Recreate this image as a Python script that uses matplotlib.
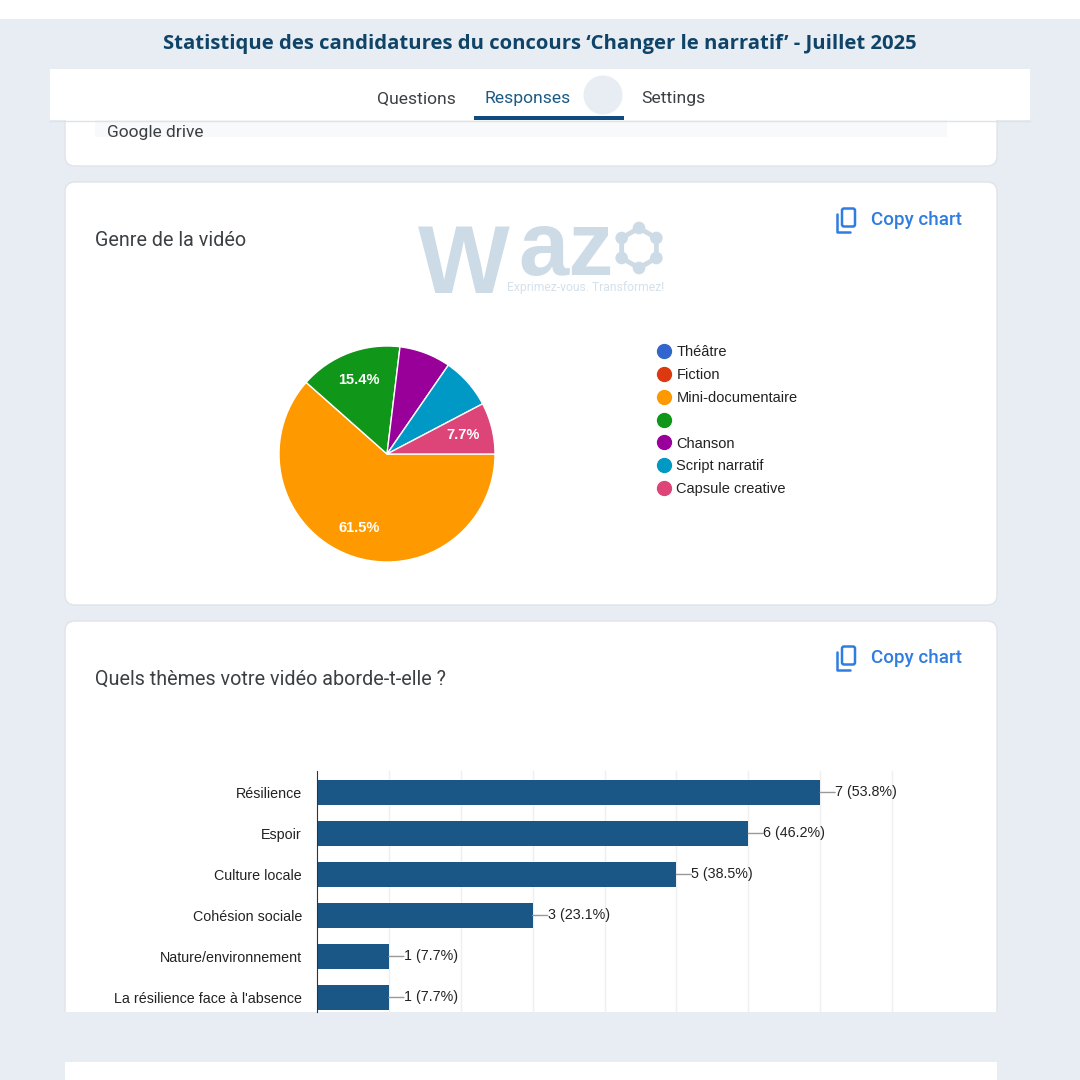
"""
Google Forms style summary of the 'Changer le narratif' applications
"""

import numpy as np
import matplotlib
matplotlib.use('Agg')
import matplotlib.pyplot as plt
from matplotlib.lines import Line2D
from matplotlib.patches import Circle, FancyBboxPatch, Polygon, Rectangle

genres = ['Théâtre', 'Fiction', 'Mini-documentaire', '', 'Chanson', 'Script narratif', 'Capsule creative']
genre_counts = [0, 0, 8, 2, 1, 1, 1]
genre_labels = ['', '', '61.5%', '15.4%', '', '', '7.7%']
genre_colors = ['#3366cc', '#dc3912', '#ff9900', '#109618', '#990099', '#0099c6', '#dd4477']

themes = ['Résilience', 'Espoir', 'Culture locale', 'Cohésion sociale', 'Nature/environnement',
          "La résilience face à l'absence"]
theme_counts = [7, 6, 5, 3, 1, 1]
theme_labels = ['7 (53.8%)', '6 (46.2%)', '5 (38.5%)', '3 (23.1%)', '1 (7.7%)', '1 (7.7%)']
theme_ticks = [1, 2, 3, 4, 5, 6, 7, 8]

PAGE = '#e7edf3'
NAVY = '#0f4468'
BAR = '#1a5686'
BLUE = '#2f7de1'
SIZE = 1080

plt.rcParams['font.family'] = ['Roboto', 'DejaVu Sans']

fig = plt.figure(figsize=(10.8, 10.8), dpi=100, facecolor='white')


def px_axes(left, top, right, bottom):
    return fig.add_axes([left / SIZE, 1 - bottom / SIZE, (right - left) / SIZE, (bottom - top) / SIZE])


# page furniture, in pixel coordinates
page = fig.add_axes([0, 0, 1, 1])
page.set_xlim(0, SIZE)
page.set_ylim(SIZE, 0)
page.axis('off')

page.add_patch(Rectangle((0, 19), SIZE, SIZE - 19, color=PAGE, lw=0))


def card(x0, y0, x1, y1):
    page.add_patch(FancyBboxPatch((x0 + 10, y0 + 10), x1 - x0 - 20, y1 - y0 - 20,
                                  boxstyle='round,pad=10,rounding_size=10',
                                  fc='white', ec='#e0e4e9', lw=1))


card(65, 90, 997, 166)
card(65, 182, 997, 605)
card(65, 621, 997, 1060)
page.add_patch(Rectangle((0, 1012), SIZE, 50, color=PAGE, lw=0, zorder=3))
page.add_patch(Rectangle((65, 1062), 932, 18, color='white', lw=0, zorder=3))

# answer row cut by the tab bar
row_box = Rectangle((95, 110), 852, 27, color='#f8f9fb', lw=0)
page.add_patch(row_box)
drive = page.text(107, 132.5, 'Google drive', fontsize=12.5, color='#3c4043', va='center')
drive.set_clip_path(row_box)

# tab bar
page.add_patch(Rectangle((50, 69), 980, 51, color='white', lw=0, zorder=2))
page.plot([50, 1030], [120.5, 120.5], color='#dfe2e6', lw=1, zorder=2)
page.add_patch(Circle((603, 95), 19.5, color=PAGE, lw=0, zorder=3))
page.add_patch(Rectangle((474, 116), 150, 4, color='#114b7d', lw=0, zorder=3))
page.text(416, 99, 'Questions', fontsize=12.6, color='#3c4043', ha='center', va='center', zorder=4)
page.text(528, 99, 'Responses', fontsize=12.6, color='#1a5a85', ha='center', va='center', zorder=4)
page.text(673, 99, 'Settings', fontsize=12.6, color='#3c4043', ha='center', va='center', zorder=4)

page.text(540, 43.5, 'Statistique des candidatures du concours ‘Changer le narratif’ - Juillet 2025',
          fontsize=14.55, fontweight='bold', family=['Open Sans', 'DejaVu Sans'], color=NAVY,
          ha='center', va='center')

# card headers
page.text(95, 241, 'Genre de la vidéo', fontsize=14.2, color='#3c4043', va='center')
page.text(95, 679, 'Quels thèmes votre vidéo aborde-t-elle ?', fontsize=14.2, color='#3c4043', va='center')


def copy_chart(y):
    page.add_patch(FancyBboxPatch((842, y - 11), 13, 18, boxstyle='round,pad=0,rounding_size=2',
                                  fc='white', ec=BLUE, lw=1.8, zorder=2))
    page.plot([837, 837, 850], [y - 6, y + 12, y + 12], color=BLUE, lw=1.8, solid_capstyle='round')
    page.text(871, y + 0.5, 'Copy chart', fontsize=13.5, fontweight='medium', color=BLUE, va='center')


copy_chart(219.5)
copy_chart(657.5)

# watermark
WATER = '#cddbe6'
page.text(418, 293, 'W', fontsize=70, fontweight='bold', family=['Liberation Sans'], color=WATER, va='baseline')
page.text(518, 275, 'az', fontsize=65, fontweight='bold', family=['Liberation Sans'], color=WATER, va='baseline')
ring_angles = np.deg2rad(np.arange(0, 360, 60) + 30)
ring_xy = np.column_stack([639 + 20 * np.cos(ring_angles), 248 + 20 * np.sin(ring_angles)])
page.add_patch(Polygon(ring_xy, closed=True, fc='none', ec=WATER, lw=3.5))
for x, y in ring_xy:
    page.add_patch(Circle((x, y), 6.3, color=WATER, lw=0))
page.text(664, 288, 'Exprimez-vous. Transformez!', fontsize=8.7, color='#d5e1ea', ha='right', va='center')

# pie
pie_ax = px_axes(387 - 135, 454 - 135, 387 + 135, 454 + 135)
pie_ax.patch.set_alpha(0)
wedges, _ = pie_ax.pie(genre_counts, colors=genre_colors, startangle=0, counterclock=False,
                       wedgeprops={'edgecolor': 'white', 'linewidth': 1})
pie_ax.set_xlim(-1.25, 1.25)
pie_ax.set_ylim(-1.25, 1.25)
for wedge, label in zip(wedges, genre_labels):
    if label:
        mid = np.deg2rad((wedge.theta1 + wedge.theta2) / 2)
        pie_ax.text(0.73 * np.cos(mid), 0.73 * np.sin(mid), label, color='white', fontsize=10.5,
                    fontweight='bold', family=['Liberation Sans'], ha='center', va='center')

handles = [Line2D([], [], ls='', marker='o', ms=10, mfc=c, mec=c) for c in genre_colors]
fig.legend(handles, genres, loc='upper left', bbox_to_anchor=(649 / SIZE, 1 - 345.5 / SIZE), frameon=False,
           handletextpad=-0.12, labelspacing=0.6, borderpad=0, borderaxespad=0,
           prop={'family': 'Liberation Sans', 'size': 10.5}, labelcolor='#222222')

# bars, cut off by the bottom of the screenshot
bar_ax = px_axes(317, 771, 892, 1012)
bar_ax.patch.set_alpha(0)
rows = np.arange(len(themes))
bar_ax.barh(rows, theme_counts, height=0.61, color=BAR, zorder=2)
bar_ax.set_xlim(0, 8)
bar_ax.set_ylim(5.354, -0.524)
bar_ax.set_xticks(theme_ticks)
bar_ax.set_xticklabels([])
bar_ax.set_yticks(rows, labels=themes)
bar_ax.tick_params(axis='both', length=0)
bar_ax.tick_params(axis='y', pad=10.8, labelsize=10.3, labelcolor='#222222')
for lab in bar_ax.get_yticklabels():
    lab.set_family('Liberation Sans')
bar_ax.grid(axis='x', color='#efefef', lw=1, zorder=0, clip_on=False)
for side in ['top', 'right', 'bottom']:
    bar_ax.spines[side].set_visible(False)
bar_ax.spines['left'].set_color('#333333')
for row, count, label in zip(rows, theme_counts, theme_labels):
    bar_ax.annotate(label, xy=(count, row), xytext=(15, 0), textcoords='offset pixels',
                    va='center', fontsize=10.3, family=['Liberation Sans'], color='#222222',
                    arrowprops={'arrowstyle': '-', 'color': '#999999', 'lw': 1, 'shrinkA': 0, 'shrinkB': 0,
                                'patchA': None, 'relpos': (0, 0.5)},
                    annotation_clip=False)

fig.savefig('out.png', dpi=100)
